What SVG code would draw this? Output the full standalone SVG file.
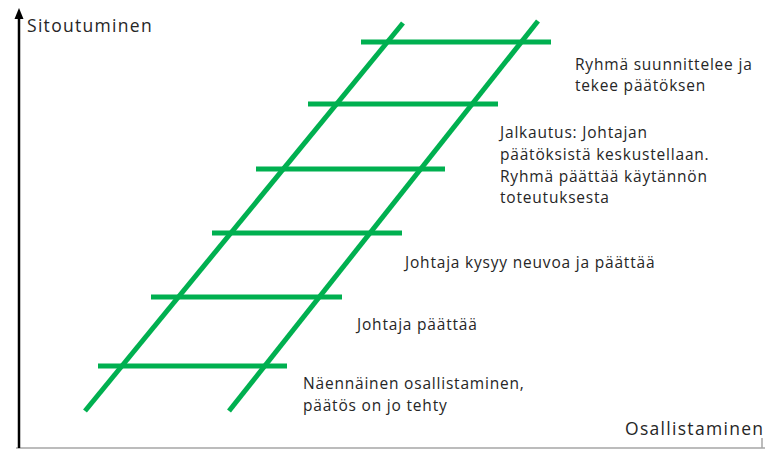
<svg xmlns="http://www.w3.org/2000/svg" width="765" height="450" viewBox="0 0 765 450">
<defs>
<style>
.rail{stroke:#00B050;stroke-width:5;fill:none}
.rung{stroke:#00B050;stroke-width:5;fill:none}
.t{font-family:"Open Sans","Liberation Sans",sans-serif;font-size:15.5px;letter-spacing:0.8px;fill:#262626}
.ax{font-family:"Open Sans","Liberation Sans",sans-serif;font-size:17.5px;letter-spacing:1.3px;fill:#262626}
</style>
</defs>
<rect width="765" height="450" fill="#fff"/>
<g id="frame">
<line x1="16" y1="448" x2="765" y2="448" stroke="#a6a6a6" stroke-width="1.5"/>
<line x1="762" y1="438" x2="762" y2="448" stroke="#a6a6a6" stroke-width="1.5"/>
</g>
<g id="axis-y">
<line x1="19" y1="448" x2="19" y2="16" stroke="#000" stroke-width="2.5"/>
<path d="M14.5,19 L19,8 L23.5,19 Z" fill="#000"/>
<text class="ax" x="27" y="32">Sitoutuminen</text>
</g>
<g id="axis-x">
<text class="ax" x="625" y="435">Osallistaminen</text>
</g>
<g id="connectors">
<line class="rail" x1="85" y1="411" x2="403" y2="23"/>
<line class="rail" x1="229" y1="411" x2="538" y2="21"/>
<line class="rung" x1="361" y1="42" x2="551" y2="42"/>
<line class="rung" x1="308" y1="104" x2="498" y2="104"/>
<line class="rung" x1="256" y1="169" x2="445" y2="169"/>
<line class="rung" x1="212" y1="233" x2="402" y2="233"/>
<line class="rung" x1="151" y1="297" x2="342" y2="297"/>
<line class="rung" x1="98" y1="366" x2="287" y2="366"/>
</g>
<g id="step6">
<text class="t" x="575" y="70">Ryhmä suunnittelee ja</text>
<text class="t" x="575" y="91">tekee päätöksen</text>
</g>
<g id="step5">
<text class="t" x="500" y="138">Jalkautus: Johtajan</text>
<text class="t" x="500" y="160">päätöksistä keskustellaan.</text>
<text class="t" x="500" y="182">Ryhmä päättää käytännön</text>
<text class="t" x="500" y="203">toteutuksesta</text>
</g>
<g id="step4">
<text class="t" x="405" y="268">Johtaja kysyy neuvoa ja päättää</text>
</g>
<g id="step3">
<text class="t" x="357" y="330">Johtaja päättää</text>
</g>
<g id="step2">
<text class="t" x="303" y="389">Näennäinen osallistaminen,</text>
<text class="t" x="303" y="411">päätös on jo tehty</text>
</g>
</svg>
